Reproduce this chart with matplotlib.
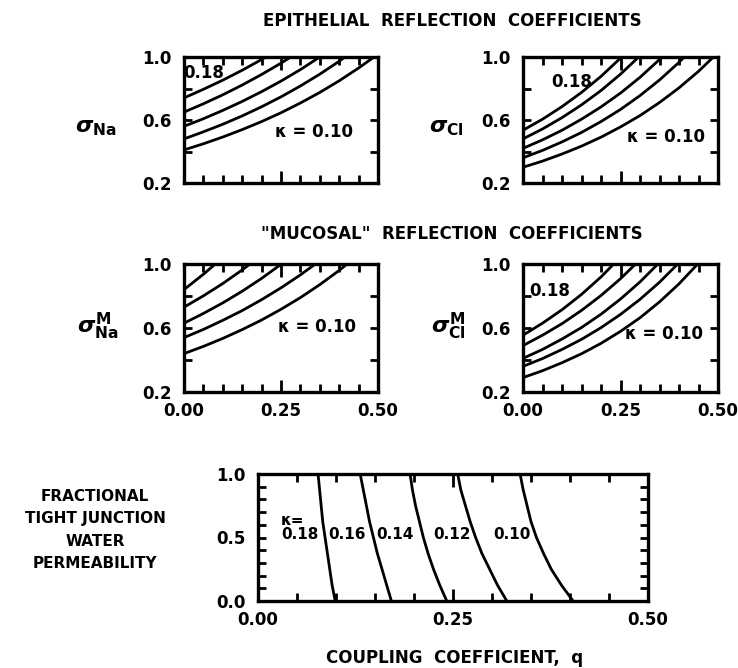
import matplotlib
matplotlib.use('Agg')
import matplotlib.pyplot as plt

plt.rcParams['font.family'] = ['DejaVu Sans']
plt.rcParams['font.weight'] = 'bold'
plt.rcParams['mathtext.fontset'] = 'dejavusans'

W, H = 738, 668

# coupling coefficient grid (q) used by the reflection coefficient panels
q_grid = [0.00, 0.05, 0.10, 0.15, 0.20, 0.25, 0.30, 0.35, 0.40, 0.45, 0.50]
kappas = ['0.10', '0.12', '0.14', '0.16', '0.18']

# epithelial sigma_Na, one list per kappa
sig_na = [
    [0.41, 0.449, 0.492, 0.539, 0.590, 0.646, 0.708, 0.775, 0.849, 0.930, 1.018],
    [0.48, 0.525, 0.573, 0.626, 0.684, 0.747, 0.816, 0.891, 0.973, 1.063],
    [0.56, 0.608, 0.661, 0.718, 0.780, 0.847, 0.920, 1.000, 1.08],
    [0.65, 0.703, 0.760, 0.822, 0.889, 0.961, 1.039],
    [0.74, 0.795, 0.853, 0.916, 0.984, 1.056],
]
# epithelial sigma_Cl
sig_cl = [
    [0.30, 0.339, 0.384, 0.434, 0.491, 0.556, 0.628, 0.711, 0.804, 0.909, 1.028],
    [0.36, 0.407, 0.461, 0.521, 0.590, 0.667, 0.755, 0.854, 0.966, 1.093],
    [0.42, 0.474, 0.535, 0.605, 0.683, 0.771, 0.871, 0.984, 1.11],
    [0.48, 0.543, 0.615, 0.696, 0.787, 0.891, 1.008],
    [0.535, 0.605, 0.685, 0.775, 0.877, 0.993, 1.12],
]
# "mucosal" sigma_Na
sig_na_m = [
    [0.44, 0.485, 0.535, 0.590, 0.650, 0.717, 0.790, 0.871, 0.960, 1.058],
    [0.54, 0.591, 0.648, 0.709, 0.777, 0.851, 0.932, 1.02],
    [0.63, 0.691, 0.757, 0.830, 0.910, 0.998, 1.094],
    [0.73, 0.801, 0.878, 0.963, 1.056],
    [0.84, 0.936, 1.04],
]
# "mucosal" sigma_Cl
sig_cl_m = [
    [0.29, 0.333, 0.383, 0.439, 0.504, 0.579, 0.664, 0.763, 0.876, 1.005],
    [0.36, 0.409, 0.466, 0.529, 0.602, 0.685, 0.779, 0.886, 1.008],
    [0.41, 0.466, 0.531, 0.603, 0.686, 0.781, 0.888, 1.01],
    [0.49, 0.555, 0.627, 0.710, 0.803, 0.908, 1.027],
    [0.555, 0.630, 0.714, 0.810, 0.919, 1.043],
]

# bottom panel: q at which each kappa curve sits, for given permeability
perm = [1.0, 0.875, 0.75, 0.625, 0.5, 0.375, 0.25, 0.125, 0.0]
q_perm = [
    [0.336, 0.340, 0.345, 0.350, 0.357, 0.366, 0.376, 0.389, 0.404],
    [0.256, 0.260, 0.266, 0.272, 0.279, 0.287, 0.297, 0.307, 0.319],
    [0.195, 0.198, 0.202, 0.207, 0.212, 0.218, 0.225, 0.233, 0.242],
    [0.131, 0.135, 0.139, 0.143, 0.148, 0.153, 0.159, 0.165, 0.171],
    [0.077, 0.079, 0.081, 0.083, 0.086, 0.089, 0.092, 0.095, 0.099],
]

LW = 2.0
FS = 12


def px_axes(fig, x0, y0, x1, y1):
    return fig.add_axes([x0 / W, 1 - y1 / H, (x1 - x0) / W, (y1 - y0) / H])


def ftext(fig, x, y, s, **kw):
    fig.text(x / W, 1 - y / H, s, ha='center', va='center', **kw)


def style_sigma(ax, xlabels):
    ax.set_xlim(0, 0.5)
    ax.set_ylim(0.2, 1.0)
    ax.set_xticks([0, 0.25, 0.5])
    ax.set_xticks([0.05, 0.10, 0.15, 0.20, 0.30, 0.35, 0.40, 0.45], minor=True)
    ax.set_yticks([0.2, 0.6, 1.0])
    ax.set_yticks([0.4, 0.8], minor=True)
    ax.set_yticklabels(['0.2', '0.6', '1.0'])
    if xlabels:
        ax.set_xticklabels(['0.00', '0.25', '0.50'])
    else:
        ax.set_xticklabels([])
    ax.tick_params(which='both', direction='in', top=True, right=True,
                   width=2, labelsize=FS)
    ax.tick_params(axis='x', which='major', length=9, pad=7)
    ax.tick_params(axis='x', which='minor', length=6)
    ax.tick_params(axis='y', which='both', length=6, pad=9)
    for sp in ax.spines.values():
        sp.set_linewidth(2.4)


def draw_sigma(ax, curves):
    for vals in curves:
        ax.plot(q_grid[:len(vals)], vals, color='black', lw=LW,
                solid_capstyle='butt')


fig = plt.figure(figsize=(W / 100, H / 100), dpi=100)

# epithelial row
ax1 = px_axes(fig, 184, 57, 378, 183)
draw_sigma(ax1, sig_na)
style_sigma(ax1, False)
ax1.text(0.051, 0.898, '0.18', ha='center', va='center', fontsize=FS)
ax1.text(0.336, 0.524, '\u03ba = 0.10', ha='center', va='center', fontsize=FS)

ax2 = px_axes(fig, 523, 57, 718, 183)
draw_sigma(ax2, sig_cl)
style_sigma(ax2, False)
ax2.text(0.126, 0.841, '0.18', ha='center', va='center', fontsize=FS)
ax2.text(0.367, 0.492, '\u03ba = 0.10', ha='center', va='center', fontsize=FS)

# mucosal row
ax3 = px_axes(fig, 184, 264, 378, 392)
draw_sigma(ax3, sig_na_m)
style_sigma(ax3, True)
ax3.text(0.344, 0.606, '\u03ba = 0.10', ha='center', va='center', fontsize=FS)

ax4 = px_axes(fig, 523, 264, 718, 392)
draw_sigma(ax4, sig_cl_m)
style_sigma(ax4, True)
ax4.text(0.069, 0.831, '0.18', ha='center', va='center', fontsize=FS)
ax4.text(0.362, 0.563, '\u03ba = 0.10', ha='center', va='center', fontsize=FS)

# permeability panel
ax5 = px_axes(fig, 258, 474, 648, 601)
for qs in q_perm:
    ax5.plot(qs, perm, color='black', lw=LW)
ax5.set_xlim(0, 0.5)
ax5.set_ylim(0, 1.0)
ax5.set_xticks([0, 0.25, 0.5])
ax5.set_xticklabels(['0.00', '0.25', '0.50'])
ax5.set_xticks([0.05, 0.10, 0.15, 0.20, 0.30, 0.35, 0.40, 0.45], minor=True)
ax5.set_yticks([0, 0.5, 1.0])
ax5.set_yticklabels(['0.0', '0.5', '1.0'])
ax5.set_yticks([0.1, 0.2, 0.3, 0.4, 0.6, 0.7, 0.8, 0.9], minor=True)
ax5.tick_params(which='both', direction='in', top=True, right=True,
                width=2, labelsize=FS)
ax5.tick_params(axis='x', which='major', length=9, pad=7)
ax5.tick_params(axis='x', which='minor', length=6)
ax5.tick_params(axis='y', which='both', length=6, pad=9)
for sp in ax5.spines.values():
    sp.set_linewidth(2.4)
ax5.text(0.044, 0.63, '\u03ba=', ha='center', va='center', fontsize=FS - 1)
for x, lab in zip([0.054, 0.114, 0.176, 0.249, 0.326], kappas[::-1]):
    ax5.text(x, 0.52, lab, ha='center', va='center', fontsize=FS - 1)

# titles and axis labels
ftext(fig, 452, 21, 'EPITHELIAL  REFLECTION  COEFFICIENTS', fontsize=12)
ftext(fig, 452, 234, '"MUCOSAL"  REFLECTION  COEFFICIENTS', fontsize=12)
ftext(fig, 96, 128, r'$\sigma_{\mathbf{Na}}$', fontsize=16)
ftext(fig, 446, 128, r'$\sigma_{\mathbf{Cl}}$', fontsize=16)
ftext(fig, 98, 326, r'$\sigma^{\mathbf{M}}_{\mathbf{Na}}$', fontsize=16)
ftext(fig, 448, 326, r'$\sigma^{\mathbf{M}}_{\mathbf{Cl}}$', fontsize=16)
ftext(fig, 95, 530, 'FRACTIONAL\nTIGHT JUNCTION\nWATER\nPERMEABILITY',
      fontsize=11, linespacing=1.6)
ftext(fig, 455, 658, 'COUPLING  COEFFICIENT,  q', fontsize=12)

fig.savefig('out.png', dpi=100)
